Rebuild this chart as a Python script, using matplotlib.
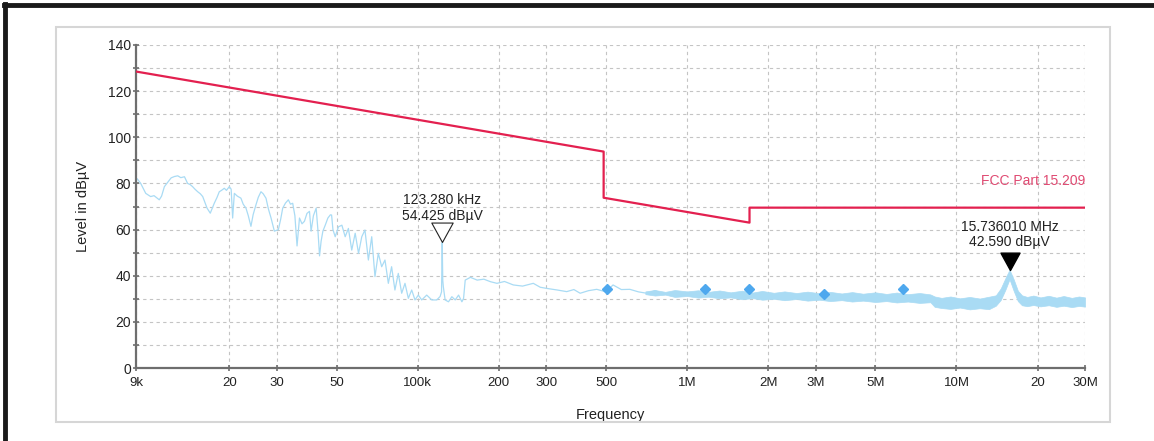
import numpy as np
import matplotlib
matplotlib.use("Agg")
import matplotlib.pyplot as plt
from matplotlib.lines import Line2D
from matplotlib.patches import Rectangle
from matplotlib.path import Path

plt.rcParams['font.family'] = ['Liberation Sans', 'DejaVu Sans']

# измеренный спектр (частота в кГц, уровень в дБмкВ)
trace_f = [9.0, 9.1, 9.37, 9.78, 10.2, 10.5, 10.98, 11.2, 11.47, 11.8, 12.15, 12.5, 12.86, 13.2,
           13.62, 13.99, 14.3, 14.6, 14.9, 15.25, 15.6, 15.92, 16.2, 16.52, 16.98, 17.3, 17.57,
           18.0, 18.34, 18.7, 19.14, 19.5, 19.98, 20.3, 20.56, 20.86, 21.4, 22.07, 22.5, 23.04,
           23.5, 24.04, 24.5, 25.09, 25.6, 26.19, 26.7, 27.34, 27.9, 28.55, 29.37, 30.39, 31.0,
           31.54, 32.3, 33.1, 33.7, 34.35, 35.0, 35.65, 36.4, 37.2, 37.98, 38.8, 39.65, 40.2,
           41.0, 41.98, 42.6, 43.21, 43.8, 44.46, 45.4, 46.4, 47.4, 47.9, 48.45, 49.4, 50.8,
           52.3, 53.8, 55.3, 56.9, 58.6, 60.3, 62.0, 63.7, 65.6, 67.5, 69.4, 71.4, 73.5, 75.6,
           77.8, 80.0, 82.3, 84.7, 87.2, 89.7, 92.3, 95.0, 97.7, 100.5, 103.5, 108.0, 112.8,
           117.7, 121.1, 122.6, 123.28, 123.9, 124.5, 126.4, 130.1, 133.9, 137.8, 141.8, 145.9,
           148.0, 150.1, 156.9, 166.2, 176.0, 186.3, 196.9, 210, 226.4, 245, 268.6, 285, 301.2,
           330, 357.3, 380, 400.9, 430, 461.9, 500, 531, 570, 613, 660, 708, 760, 800]
trace_db = [81.5, 82.0, 80.0, 75.7, 74.3, 74.7, 72.9, 74.5, 78.6, 80.5, 82.4, 83.0, 83.3, 82.5,
            82.9, 80.0, 79.5, 78.6, 77.5, 76.4, 75.5, 74.3, 72.0, 69.3, 67.1, 69.5, 71.4,
            74.0, 76.4, 77.0, 77.9, 77.0, 78.6, 77.5, 65.0, 75.7, 74.5, 73.6, 71.0, 69.3,
            66.0, 61.4, 66.5, 70.7, 74.0, 76.4, 75.5, 73.6, 69.0, 65.0, 59.3, 60.0, 64.5,
            69.3, 71.5, 72.9, 71.0, 71.4, 66.0, 52.9, 65.0, 62.5, 63.6, 67.0, 67.9, 59.3,
            66.0, 69.3, 60.0, 48.6, 55.0, 59.3, 62.0, 65.0, 66.4, 66.3, 60.0, 56.9, 61.2,
            61.9, 56.9, 60.5, 51.1, 58.4, 49.7, 56.9, 59.8, 46.8, 56.9, 39.6, 49.7, 43.9, 46.8,
            36.7, 43.9, 33.8, 41.0, 32.4, 36.7, 30.2, 33.8, 29.5, 31.6, 29.5, 31.6, 29.5,
            29.5, 31.0, 33.0, 54.4, 38.0, 35.2, 29.5, 28.7, 30.9, 29.5, 31.6, 28.7,
            30.2, 38.1, 39.3, 38.1, 38.5, 37.4, 36.7, 37.5, 36.0, 35.5, 36.7, 35.0, 34.5,
            33.8, 33.1, 34.0, 32.4, 33.5, 34.1, 33.0, 36.0, 34.0, 34.1, 33.0, 32.4, 33.5, 32.5]

# полоса шума на высоких частотах (кГц, нижняя и верхняя граница)
band_f = [700, 760, 830, 900, 1000, 1100, 1200, 1320, 1450, 1600, 1750, 1900, 2100, 2300,
          2550, 2800, 3100, 3400, 3750, 4100, 4500, 5000, 5500, 6000, 6600, 7300, 8000, 8300,
          8800, 9500, 10300, 11200, 12200, 13200, 14000, 14600, 15200, 15736, 16300, 16900,
          17500, 18300, 19300, 20500, 22000, 23500, 25000, 26800, 28500, 30000]
band_lo = [32.0, 31.4, 31.8, 30.8, 31.2, 30.5, 30.9, 30.2, 30.6, 29.8, 30.3, 29.6, 30.0,
           29.4, 29.9, 29.2, 29.6, 29.0, 29.4, 28.8, 29.2, 28.6, 29.0, 28.4, 28.8, 28.2,
           28.5, 26.5, 26.0, 25.6, 26.2, 25.4, 25.9, 25.5, 27.0, 29.5, 34.0, 38.5, 33.5,
           29.0, 27.2, 26.8, 27.3, 26.7, 27.2, 26.5, 27.0, 26.4, 26.9, 26.6]
band_hi = [33.2, 33.8, 33.0, 33.8, 33.2, 33.7, 33.0, 33.6, 32.8, 33.5, 32.7, 33.4, 32.6,
           33.2, 32.5, 33.1, 32.4, 33.0, 32.3, 32.9, 32.2, 32.8, 32.1, 32.7, 32.0, 32.5,
           31.9, 31.0, 30.4, 31.0, 30.2, 30.8, 30.1, 30.9, 31.5, 34.5, 39.0, 42.6, 38.5,
           33.5, 31.5, 30.8, 31.4, 30.6, 31.3, 30.5, 31.2, 30.4, 31.0, 30.6]

# предельная линия FCC Part 15.209
limit_f = [9, 490, 490, 1705, 1705, 30000]
limit_db = [128.5, 93.8, 73.8, 63.0, 69.5, 69.5]

# финальные измерения (ромбы)
final_f = [505, 1163, 1697, 3220, 6340]
final_db = [34.3, 34.3, 34.3, 32.0, 34.3]

# маркеры
m1_f, m1_db = 123.28, 54.425
m2_f, m2_db = 15736.01, 42.59

xtick_f = [9, 20, 30, 50, 100, 200, 300, 500, 1000, 2000, 3000, 5000, 10000, 20000, 30000]
xtick_lab = ['9k', '20', '30', '50', '100k', '200', '300', '500', '1M', '2M', '3M', '5M',
             '10M', '20', '30M']

W, H = 1154, 441
fig = plt.figure(figsize=(W / 100, H / 100), dpi=100)
ax = fig.add_axes([136 / W, 1 - 368 / H, (1085 - 136) / W, (368 - 45) / H])

trace_col = '#a9dbf4'
ax.fill_between(band_f, band_lo, band_hi, color=trace_col, linewidth=0.5, zorder=2)
ax.plot(trace_f, trace_db, color=trace_col, linewidth=0.9, zorder=2)
ax.plot(limit_f, limit_db, color='#e3204f', linewidth=1.6, zorder=3)
ax.plot(final_f, final_db, linestyle='none', marker='D', markersize=5,
        color='#4ea8ee', zorder=4)

# треугольники маркеров с остриём в точке
tri = Path([(-0.55, 1.0), (0.55, 1.0), (0.0, 0.0), (-0.55, 1.0)],
           [Path.MOVETO, Path.LINETO, Path.LINETO, Path.CLOSEPOLY])
ax.plot([m1_f], [m1_db], marker=tri, markersize=28, markerfacecolor='white',
        markeredgecolor='#222222', markeredgewidth=0.8, linestyle='none', zorder=5)
ax.plot([m2_f], [m2_db], marker=tri, markersize=25, color='black', linestyle='none', zorder=5)

ax.text(m1_f, 63.0, '123.280 kHz\n54.425 dBµV', ha='center', va='bottom',
        fontsize=10, color='#222222', linespacing=1.15)
ax.text(m2_f, 51.5, '15.736010 MHz\n42.590 dBµV', ha='center', va='bottom',
        fontsize=10, color='#222222', linespacing=1.15)
ax.text(30000, 81.0, 'FCC Part 15.209', ha='right', va='center', fontsize=10,
        color='#e04a72')

ax.set_xscale('log')
ax.set_xlim(9, 30000)
ax.set_ylim(0, 140)
ax.set_xticks(xtick_f)
ax.set_xticklabels(xtick_lab)
ax.xaxis.set_minor_locator(matplotlib.ticker.NullLocator())
ax.set_yticks(np.arange(0, 141, 20))
ax.set_yticks(np.arange(10, 140, 20), minor=True)

ax.grid(which='both', color='#c4c4c4', linestyle=(0, (3, 3)), linewidth=0.8)
ax.set_axisbelow(True)
for s in ['top', 'right']:
    ax.spines[s].set_visible(False)
for s in ['left', 'bottom']:
    ax.spines[s].set_color('#6e6e6e')
    ax.spines[s].set_linewidth(1.6)
ax.tick_params(which='both', direction='inout', length=4.5, width=1.2, color='#6e6e6e')
ax.tick_params(axis='y', labelsize=10, pad=1.5, labelcolor='#222222')
ax.tick_params(axis='x', labelsize=9.5, pad=4, labelcolor='#222222')

ax.set_ylabel('Level in dBµV', fontsize=10.5, color='#222222')
ax.yaxis.set_label_coords(-0.0485, 0.5)
ax.set_xlabel('Frequency', fontsize=10.5, color='#222222')
ax.xaxis.set_label_coords(0.5, -0.125)

# рамки
fig.add_artist(Rectangle((56 / W, 1 - 422 / H), (1110 - 56) / W, (422 - 27) / H,
                         transform=fig.transFigure, fill=False, edgecolor='#d6d6d6',
                         linewidth=1.5))
fig.add_artist(Line2D([5 / W, 5 / W], [0, 1 - 4 / H], transform=fig.transFigure,
                      color='#1a1a1a', linewidth=3.5))
fig.add_artist(Line2D([4 / W, 1], [1 - 5 / H, 1 - 5 / H], transform=fig.transFigure,
                      color='#1a1a1a', linewidth=3.5))

fig.savefig('out.png', dpi=100)
